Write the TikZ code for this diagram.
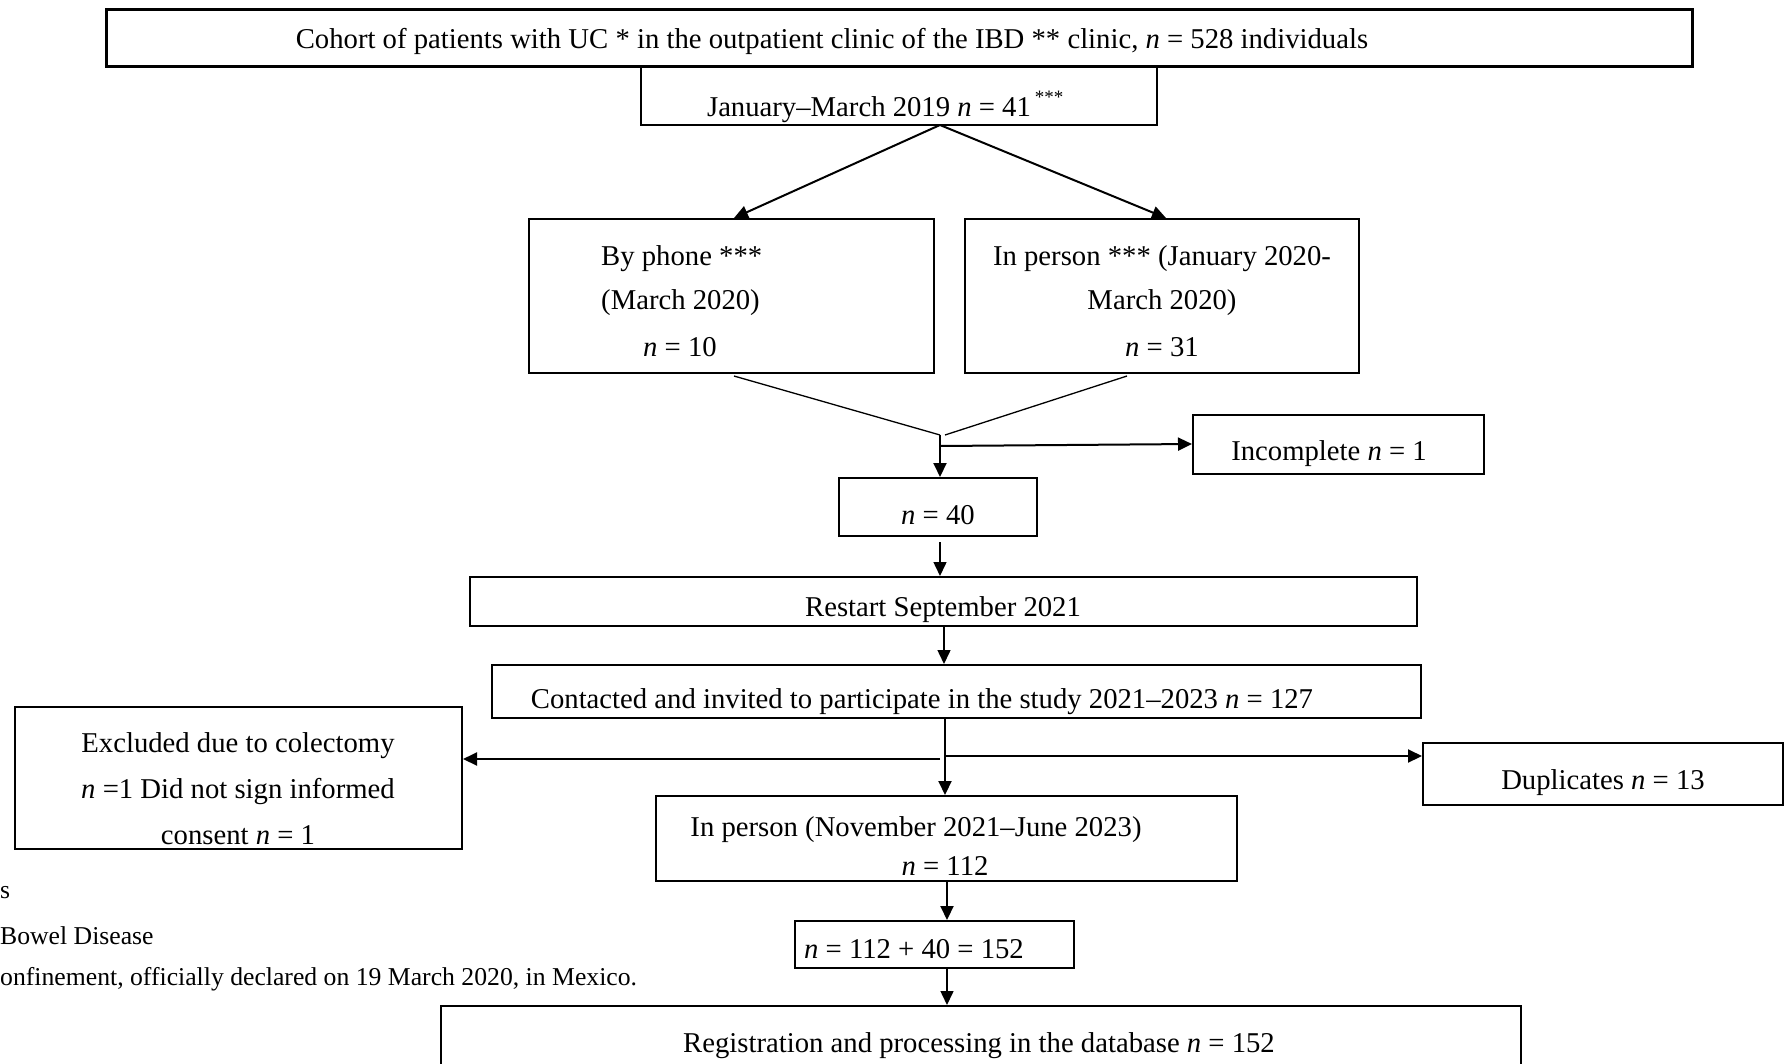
\documentclass[tikz,border=0pt]{standalone}
\usepackage{fontspec}
\setmainfont{Liberation Serif}
\usetikzlibrary{arrows.meta}
\begin{document}
\begin{tikzpicture}[x=1pt,y=-1pt,
  box/.style={draw, line width=2pt, inner sep=0pt, minimum width=#1},
  lbl/.style={inner sep=0pt, yshift=-3.5pt, font=\fontsize{28.7}{34}\selectfont},
  foot/.style={inner sep=0pt, yshift=-2.5pt, font=\fontsize{25.7}{30}\selectfont},
  conn/.style={line width=1.3pt},
  arr/.style={line width=2pt, -{Triangle[length=14pt,width=13pt]}}]
\useasboundingbox (0,0) rectangle (1785,1063);
% boxes
\node[box=1586, minimum height=57, line width=3pt] (top) at (899,37.5) {};
\node[box=516, minimum height=59] (jan) at (899,95.5) {};
\node[box=405, minimum height=154] (phone) at (731.5,296) {};
\node[box=394, minimum height=154] (inp) at (1162,296) {};
\node[box=291, minimum height=59] (inc) at (1338.5,444.5) {};
\node[box=198, minimum height=58] (n40) at (938,507) {};
\node[box=947, minimum height=49] (restart) at (943.5,601.5) {};
\node[box=929, minimum height=53] (contact) at (956.5,691.5) {};
\node[box=447, minimum height=142] (excl) at (238.5,778) {};
\node[box=360, minimum height=62] (dup) at (1603,774) {};
\node[box=581, minimum height=85] (inp2) at (946.5,838.5) {};
\node[box=279, minimum height=47] (sum) at (934.5,944.5) {};
\node[box=1080, minimum height=80] (reg) at (981,1046) {};
% texts
\node[lbl] (ttop) at (832,38) {Cohort of patients with UC * in the outpatient clinic of the IBD ** clinic, \textit{n} = 528 individuals};
\node[lbl] (tjan) at (869,106) {January--March 2019 \textit{n} = 41};
\node[lbl, font=\fontsize{19}{20}\selectfont] (tjans) at (1049,94) {***};
\node[lbl, anchor=west] (tph1) at (601,255) {By phone ***};
\node[lbl, anchor=west] (tph2) at (601,299) {(March 2020)};
\node[lbl, anchor=west] (tph3) at (643,344) {\textit{n} = 10};
\node[lbl] (tin1) at (1162,255) {In person *** (January 2020-};
\node[lbl] (tin2) at (1162,299) {March 2020)};
\node[lbl] (tin3) at (1162,344) {\textit{n} = 31};
\node[lbl] (tinc) at (1329,450) {Incomplete \textit{n} = 1};
\node[lbl] (tn40) at (938,512) {\textit{n} = 40};
\node[lbl] (tres) at (943,606) {Restart September 2021};
\node[lbl] (tcon) at (922,698) {Contacted and invited to participate in the study 2021--2023 \textit{n} = 127};
\node[lbl] (tex1) at (238,742) {Excluded due to colectomy};
\node[lbl] (tex2) at (238,788) {\textit{n} =1 Did not sign informed};
\node[lbl] (tex3) at (238,832) {consent \textit{n} = 1};
\node[lbl] (tdup) at (1603,779) {Duplicates \textit{n} = 13};
\node[lbl] (tip1) at (916,826) {In person (November 2021--June 2023)};
\node[lbl] (tip2) at (945,862) {\textit{n} = 112};
\node[lbl] (tsum) at (914,946) {\textit{n} = 112 + 40 = 152};
\node[lbl] (treg) at (979,1042) {Registration and processing in the database \textit{n} = 152};
% footnote fragments
\node[foot, anchor=west] (f1) at (0,890) {s};
\node[foot, anchor=west] (f2) at (0,933) {Bowel Disease};
\node[foot, anchor=west] (f3) at (0,977) {onfinement, officially declared on 19 March 2020, in Mexico.};
% junction coordinates
\coordinate (js) at (940,125);
\coordinate (jm) at (940,435);
\coordinate (jm2) at (945,435);
\coordinate (jh) at (940,446);
\coordinate (ph) at (734,376);
\coordinate (ih) at (1127,376);
\coordinate (cb) at (945,718);
\coordinate (cl) at (940,759);
\coordinate (cr) at (945,756);
% connectors
\draw[arr] (js) -- (phone.north -| 734,0);
\draw[arr] (js) -- (inp.north -| 1166,0);
\draw[conn] (ph) -- (jm);
\draw[conn] (ih) -- (jm2);
\draw[arr] (jm) -- (n40.north -| jm);
\draw[arr] (jh) -- (inc.west |- 0,444);
\draw[arr, line width=1.5pt] (n40.south -| 940,0) ++(0,5) -- (restart.north -| 940,0);
\draw[arr, line width=1.5pt] (restart.south -| 944,0) -- (contact.north -| 944,0);
\draw[arr] (cb) -- (inp2.north -| cb);
\draw[arr] (cl) -- (excl.east |- cl);
\draw[arr] (cr) -- (dup.west |- cr);
\draw[arr] (inp2.south -| 947,0) -- (sum.north -| 947,0);
\draw[arr, line width=1.5pt] (sum.south -| 947,0) -- (reg.north -| 947,0);
\end{tikzpicture}
\end{document}
